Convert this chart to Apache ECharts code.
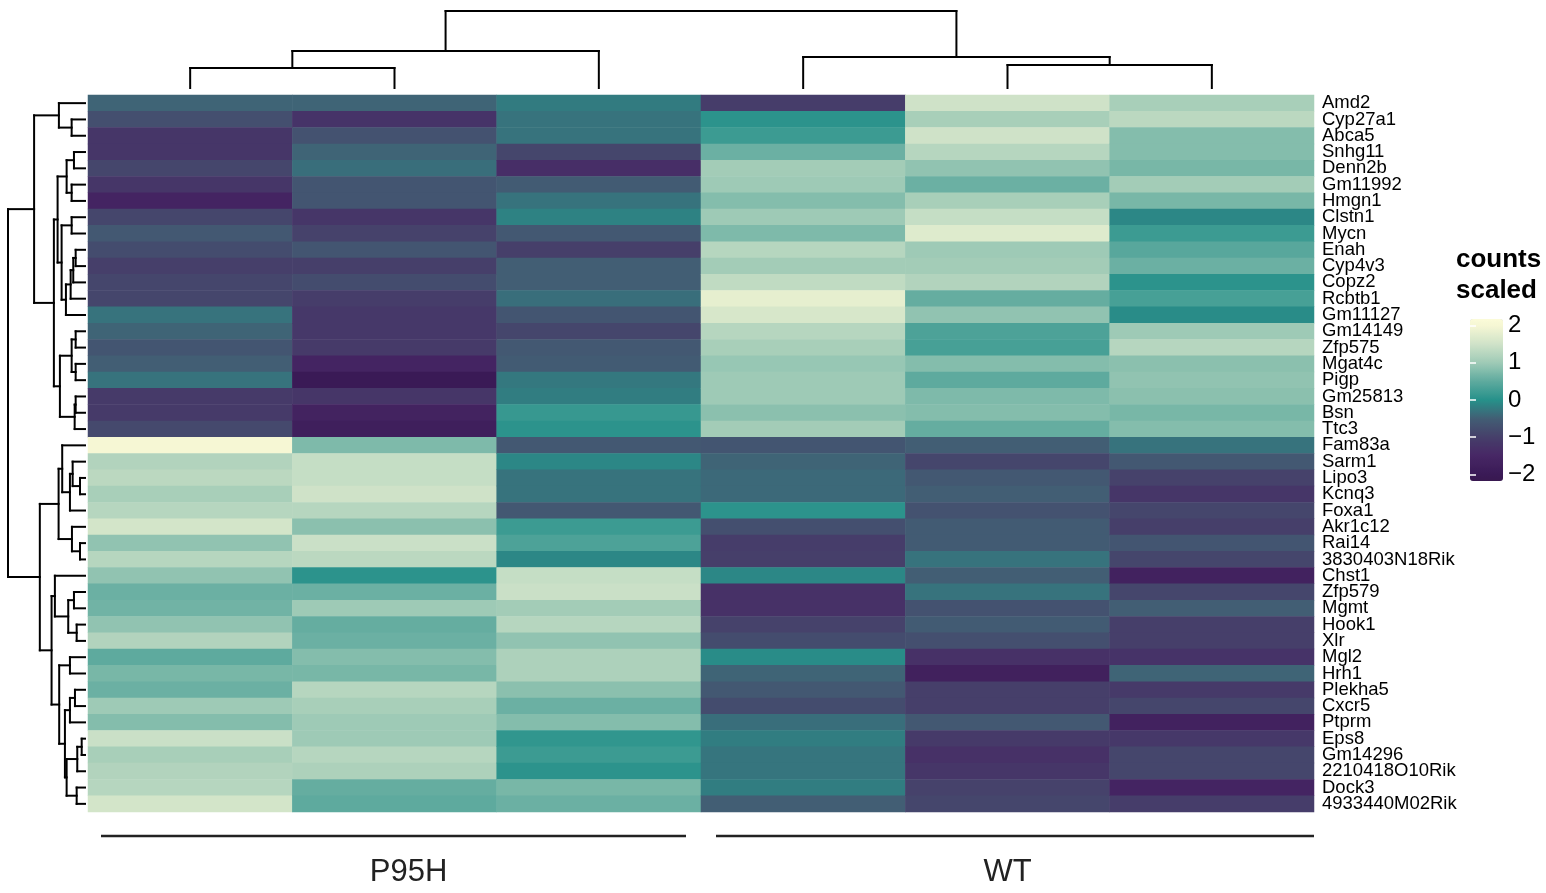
<!DOCTYPE html>
<html>
<head>
<meta charset="utf-8">
<script src="https://cdn.jsdelivr.net/npm/echarts@6/dist/echarts.min.js"></script>
<style>html,body{margin:0;padding:0;background:#fff}#chart{width:1546px;height:893px}</style>
</head>
<body>
<div id="chart"></div>
<script>
const genes = ['Amd2','Cyp27a1','Abca5','Snhg11','Denn2b','Gm11992','Hmgn1','Clstn1','Mycn','Enah','Cyp4v3','Copz2','Rcbtb1','Gm11127','Gm14149','Zfp575','Mgat4c','Pigp','Gm25813','Bsn','Ttc3','Fam83a','Sarm1','Lipo3','Kcnq3','Foxa1','Akr1c12','Rai14','3830403N18Rik','Chst1','Zfp579','Mgmt','Hook1','Xlr','Mgl2','Hrh1','Plekha5','Cxcr5','Ptprm','Eps8','Gm14296','2210418O10Rik','Dock3','4933440M02Rik'];
const samples = ['P95H_1','P95H_2','P95H_3','WT_1','WT_2','WT_3'];
const groups = ['P95H','WT'];
const groupFrom = [0, 3];
const groupTo = [3, 6];

const p95h1 = [-0.45,-0.75,-1.2,-1.2,-0.9,-1.2,-1.6,-0.9,-0.6,-0.8,-1.0,-0.9,-0.9,-0.3,-0.45,-0.65,-0.5,-0.3,-1.1,-1.1,-0.85,2.0,1.2,1.3,1.1,1.25,1.55,0.9,1.25,0.9,0.6,0.65,0.9,1.2,0.5,0.7,0.6,1.0,0.8,1.45,1.1,1.2,1.25,1.55];
const p95h2 = [-0.45,-1.25,-0.7,-0.45,-0.35,-0.65,-0.65,-1.2,-0.95,-0.65,-1.0,-0.8,-1.05,-1.15,-1.15,-1.1,-1.6,-2.0,-1.2,-1.65,-1.8,0.75,1.4,1.4,1.5,1.25,0.85,1.45,1.3,0.05,0.6,1.0,0.55,0.6,0.8,0.7,1.25,1.1,1.0,1.0,1.25,1.15,0.55,0.5];
const p95h3 = [-0.22,-0.3,-0.3,-0.9,-1.35,-0.55,-0.3,-0.15,-0.6,-1.0,-0.5,-0.5,-0.35,-0.65,-0.9,-0.6,-0.55,-0.25,-0.2,0.15,0.05,-0.6,-0.1,-0.3,-0.3,-0.6,0.2,0.35,-0.1,1.4,1.45,1.05,1.25,0.9,1.15,1.15,0.85,0.6,0.8,0.1,0.2,0.05,0.7,0.6];
const wt1 = [-1.05,0.05,0.2,0.6,1.05,1.0,0.8,1.0,0.75,1.25,1.05,1.35,1.8,1.6,1.25,1.1,0.95,1.0,1.0,0.85,1.05,-0.65,-0.45,-0.4,-0.4,0.05,-0.75,-1.05,-1.0,-0.1,-1.3,-1.3,-0.95,-0.8,-0.05,-0.45,-0.6,-0.8,-0.35,-0.2,-0.28,-0.28,-0.2,-0.5];
const wt2 = [1.5,1.1,1.5,1.25,0.9,0.6,1.1,1.4,1.7,1.0,1.05,1.2,0.55,0.9,0.35,0.3,0.8,0.5,0.75,0.8,0.55,-0.5,-0.9,-0.6,-0.5,-0.7,-0.55,-0.55,-0.3,-0.5,-0.3,-0.7,-0.55,-0.75,-1.3,-1.75,-1.0,-1.0,-0.6,-1.1,-1.3,-1.2,-0.95,-0.9];
const wt3 = [1.1,1.3,0.8,0.8,0.7,1.05,0.7,-0.1,0.2,0.45,0.6,0.05,0.3,-0.05,1.0,1.25,0.85,0.9,0.85,0.7,0.8,-0.3,-0.6,-0.95,-1.2,-0.9,-1.0,-0.65,-0.9,-1.7,-0.9,-0.5,-1.0,-1.0,-1.25,-0.45,-1.1,-0.9,-1.7,-1.15,-0.9,-0.9,-1.6,-1.05];

const legendTicks = [-2, -1, 0, 1, 2];
const scaleMin = -2.18;
const scaleMax = 2.18;
const paletteValues = [-2.2, -2, -1.5, -1, -0.5, 0, 0.5, 1, 1.5, 2, 2.2];
const paletteColors = ['#38184f','#3a1a56','#472765','#463f6a','#425e74','#26918a','#5eaa9e','#9ecab6','#cfe2c8','#f6f7d4','#fcfbd8'];

// column dendrogram: [left, right, mergeHeight]
const colTree = [[[0, 1, 20], 2, 37], [3, [4, 5, 23], 31], 77];
// row dendrogram
const rowTop = [
  [0, [1, 2, 13.3], 26],
  [
    [
      [[3, 4, 11], [5, 6, 13.3], 18.3],
      [[7, 8, 13.3], [[[[9, 10, 9.3], 11, 11.7], 12, 14.3], 13, 19], 23.3],
      27.3
    ],
    [
      [[14, 15, 9.3], [16, 17, 9.3], 13.3],
      [[18, 19, 9.3], 20, 10.3],
      25
    ],
    31
  ],
  50.7
];
const rowBottom = [
  [
    [21, [[22, [23, 24, 5], 12.3], 25, 15], 22.7],
    [26, [27, 28, 5], 13],
    26.3
  ],
  [
    [29, [[30, 31, 11], [32, 33, 8.3], 16.7], 30],
    [
      [34, 35, 15],
      [
        [[36, 37, 10], 38, 15],
        [[[39, 40, 3.3], 41, 7.7], [42, 43, 8.3], 18.3],
        20
      ],
      25.7
    ],
    33.3
  ],
  45
];
const rowTree = [rowTop, rowBottom, 76.7];

// ---------- helpers ----------
function hexToRgb(h){ return [parseInt(h.slice(1,3),16),parseInt(h.slice(3,5),16),parseInt(h.slice(5,7),16)]; }
function colorAt(v){
  if (v <= paletteValues[0]) return paletteColors[0];
  for (let i = 1; i < paletteValues.length; i++) {
    if (v <= paletteValues[i]) {
      const t = (v - paletteValues[i-1]) / (paletteValues[i] - paletteValues[i-1]);
      const a = hexToRgb(paletteColors[i-1]), b = hexToRgb(paletteColors[i]);
      const c = a.map((x, k) => Math.round(x + (b[k] - x) * t));
      return 'rgb(' + c.join(',') + ')';
    }
  }
  return paletteColors[paletteColors.length - 1];
}
const nSteps = 88;
const rampColors = [];
for (let i = 0; i <= nSteps; i++) rampColors.push(colorAt(scaleMin + (scaleMax - scaleMin) * i / nSteps));

function dendroSegments(tree, swap){
  const segs = [];
  function walk(n){
    if (typeof n === 'number') return [n + 0.5, 0];
    const a = walk(n[0]), b = walk(n[1]), h = n[2];
    segs.push([a[0], a[1], a[0], h]);
    segs.push([b[0], b[1], b[0], h]);
    segs.push([a[0], h, b[0], h]);
    return [(a[0] + b[0]) / 2, h];
  }
  walk(tree);
  return swap ? segs.map(s => [s[1], s[0], s[3], s[2]]) : segs;
}

const columns = [p95h1, p95h2, p95h3, wt1, wt2, wt3];
const heatData = [];
columns.forEach((col, c) => col.forEach((v, r) => heatData.push([c, r, v])));

const FONT = 'Liberation Sans, Arial, Helvetica, sans-serif';

function segRender(params, api){
  const p1 = api.coord([api.value(0), api.value(1)]);
  const p2 = api.coord([api.value(2), api.value(3)]);
  return {type: 'line', shape: {x1: p1[0], y1: p1[1], x2: p2[0], y2: p2[1]},
          style: {stroke: '#000', lineWidth: 2, lineCap: 'square'}};
}

const chart = echarts.init(document.getElementById('chart'), null, {renderer: 'canvas'});
chart.setOption({
  animation: false,
  backgroundColor: '#fff',
  title: {
    text: 'counts\nscaled', left: 1451, top: 239,
    textStyle: {fontFamily: FONT, fontWeight: 'bold', fontSize: 26, lineHeight: 31, color: '#000'}
  },
  grid: [
    {left: 88, top: 95, width: 1226, height: 717},
    {left: 88, top: 11, width: 1226, height: 77},
    {left: 8, top: 95, width: 77, height: 717},
    {left: 88, top: 826, width: 1226, height: 20},
    {left: 1470, top: 319, width: 33, height: 162}
  ],
  xAxis: [
    {gridIndex: 0, type: 'category', data: samples, show: false},
    {gridIndex: 1, type: 'value', min: 0, max: 6, show: false},
    {gridIndex: 2, type: 'value', min: 0, max: 76.7, inverse: true, show: false},
    {gridIndex: 3, type: 'value', min: 0, max: 6, show: false},
    {gridIndex: 4, type: 'value', min: 0, max: 1, show: false}
  ],
  yAxis: [
    {gridIndex: 0, type: 'category', data: genes, inverse: true, position: 'right',
     axisLine: {show: false}, axisTick: {show: false}, splitLine: {show: false},
     axisLabel: {interval: 0, margin: 8, fontSize: 18.5, color: '#000', fontFamily: FONT, padding: [4, 0, 0, 0]}},
    {gridIndex: 1, type: 'value', min: 0, max: 77, show: false},
    {gridIndex: 2, type: 'value', min: 0, max: 44, inverse: true, show: false},
    {gridIndex: 3, type: 'value', min: 0, max: 1, show: false},
    {gridIndex: 4, type: 'value', min: scaleMin, max: scaleMax, position: 'right', z: 10,
     axisLine: {show: false}, splitLine: {show: false},
     axisTick: {show: true, inside: true, length: 6, customValues: legendTicks, lineStyle: {color: '#fff', width: 1.5}},
     axisLabel: {show: true, margin: 5, fontSize: 24, color: '#000', fontFamily: FONT, customValues: legendTicks,
                 formatter: v => String(v).replace('-', '\u2212')}},
    {gridIndex: 4, type: 'value', min: scaleMin, max: scaleMax, position: 'left', z: 10,
     axisLine: {show: false}, splitLine: {show: false}, axisLabel: {show: false},
     axisTick: {show: true, inside: true, length: 6, customValues: legendTicks, lineStyle: {color: '#fff', width: 1.5}}}
  ],
  visualMap: {
    type: 'continuous', seriesIndex: 0, min: scaleMin, max: scaleMax,
    calculable: false, orient: 'vertical', left: 1470, top: 319,
    itemWidth: 33, itemHeight: 162, padding: 0, hoverLink: false,
    inRange: {color: rampColors}
  },
  series: [
    {type: 'heatmap', xAxisIndex: 0, yAxisIndex: 0, data: heatData, silent: true,
     itemStyle: {borderWidth: 0}, progressive: 0},
    {type: 'custom', xAxisIndex: 1, yAxisIndex: 1, silent: true,
     data: dendroSegments(colTree, false), encode: {x: [0, 2], y: [1, 3]}, renderItem: segRender},
    {type: 'custom', xAxisIndex: 2, yAxisIndex: 2, silent: true,
     data: dendroSegments(rowTree, true), encode: {x: [0, 2], y: [1, 3]}, renderItem: segRender},
    {type: 'custom', xAxisIndex: 3, yAxisIndex: 3, silent: true,
     data: groupFrom.map((f, i) => [f, groupTo[i]]), encode: {x: [0, 1]},
     renderItem: function(params, api){
       const i = params.dataIndex;
       const s = api.coord([api.value(0), 0.5]);
       const e = api.coord([api.value(1), 0.5]);
       const inset = i === 0 ? [13, 15] : [15, 0];
       const labelShift = i === 0 ? 14 : 0;
       return {type: 'group', children: [
         {type: 'line', shape: {x1: s[0] + inset[0], y1: s[1], x2: e[0] - inset[1], y2: s[1]},
          style: {stroke: '#222', lineWidth: 2.5}},
         {type: 'text', style: {text: groups[i], x: (s[0] + e[0]) / 2 + labelShift, y: s[1] + 36,
          align: 'center', verticalAlign: 'middle', fontSize: 31, fill: '#222', fontFamily: FONT}}
       ]};
     }}
  ]
});
</script>
</body>
</html>
